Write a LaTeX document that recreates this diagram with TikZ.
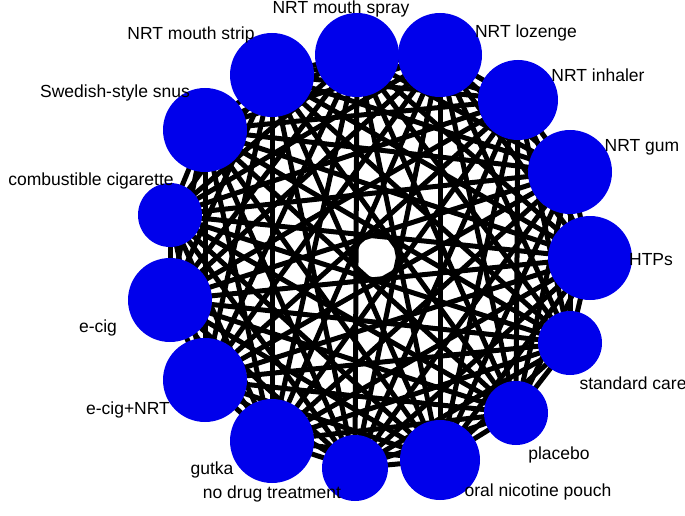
\documentclass[tikz,border=0pt]{standalone}
\usepackage{fontspec}
\setmainfont{Liberation Sans}
\usetikzlibrary{backgrounds}
\definecolor{netblue}{RGB}{0,0,235}
\begin{document}
\begin{tikzpicture}[x=1pt,y=-1pt,
    trt node/.style={circle,fill=netblue,inner sep=0pt,minimum size=#1},
    lbl/.style={font=\fontsize{17.5}{19}\selectfont,inner sep=0pt},
    link/.style={-,line width=5pt,black}]
  \useasboundingbox (0,0) rectangle (685,516);
  % treatments: index / x / y / diameter
  \foreach \i/\x/\y/\d in {1/357/55/84, 2/440/55/84, 3/518/100/80, 4/570/172/84,
      5/590/258/84, 6/570/343/64, 7/516/413/64, 8/440/460/80, 9/355/468/66,
      10/272/441/84, 11/205/380/84, 12/170/300/84, 13/170/215/64, 14/205/130/84,
      15/272/75/84}
    \node[trt node=\d pt] (n\i) at (\x,\y) {};
  \begin{pgfonlayer}{background}
    \foreach \i in {1,...,14}{
      \pgfmathtruncatemacro\s{\i+1}
      \foreach \j in {\s,...,15}
        \draw[link] (n\i.center) -- (n\j.center);
    }
  \end{pgfonlayer}
  \node[lbl] (l1) at (341,9) {NRT mouth spray};
  \node[lbl] (l15) at (191,35) {NRT mouth strip};
  \node[lbl] (l2) at (526,33) {NRT lozenge};
  \node[lbl] (l3) at (598,75) {NRT inhaler};
  \node[lbl] (l4) at (642,147) {NRT gum};
  \node[lbl] (l5) at (651,260) {HTPs};
  \node[lbl] (l6) at (633,383) {standard care};
  \node[lbl] (l7) at (559,455) {placebo};
  \node[lbl] (l8) at (538,492) {oral nicotine pouch};
  \node[lbl] (l9) at (272,494) {no drug treatment};
  \node[lbl] (l10) at (212,470) {gutka};
  \node[lbl] (l11) at (128,410) {e-cig+NRT};
  \node[lbl] (l12) at (98,328) {e-cig};
  \node[lbl] (l13) at (91,181) {combustible cigarette};
  \node[lbl] (l14) at (115,93) {Swedish-style snus};
\end{tikzpicture}
\end{document}
